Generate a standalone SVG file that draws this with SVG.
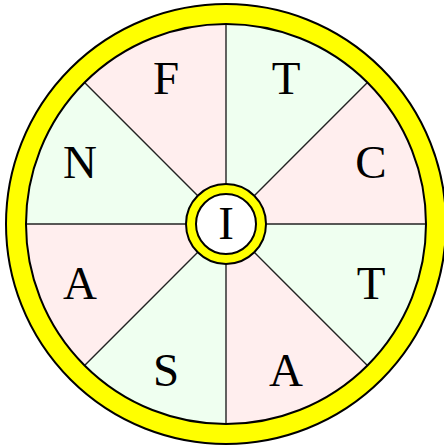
<svg xmlns="http://www.w3.org/2000/svg" width="444" height="446" viewBox="0 0 444 446">
<style>
.pink{fill:#ffeeee;stroke:none}
.green{fill:#effff0;stroke:none}
.spoke{stroke:#222;stroke-width:1.4;fill:none}
.lbl{font-family:"Liberation Serif","Times New Roman",serif;font-size:47px;fill:#000;text-anchor:middle}
</style>
<rect width="444" height="446" fill="#fff"/>
<g id="sectors">
<path class="green" d="M226,224 L226,24 A200,200 0 0 1 367.42,82.58 Z"/>
<path class="pink" d="M226,224 L367.42,82.58 A200,200 0 0 1 426,224 Z"/>
<path class="green" d="M226,224 L426,224 A200,200 0 0 1 367.42,365.42 Z"/>
<path class="pink" d="M226,224 L367.42,365.42 A200,200 0 0 1 226,424 Z"/>
<path class="green" d="M226,224 L226,424 A200,200 0 0 1 84.58,365.42 Z"/>
<path class="pink" d="M226,224 L84.58,365.42 A200,200 0 0 1 26,224 Z"/>
<path class="green" d="M226,224 L26,224 A200,200 0 0 1 84.58,82.58 Z"/>
<path class="pink" d="M226,224 L84.58,82.58 A200,200 0 0 1 226,24 Z"/>
</g>
<g id="connectors">
<line class="spoke" x1="226" y1="24" x2="226" y2="424"/>
<line class="spoke" x1="26" y1="224" x2="426" y2="224"/>
<line class="spoke" x1="84.58" y1="82.58" x2="367.42" y2="365.42"/>
<line class="spoke" x1="367.42" y1="82.58" x2="84.58" y2="365.42"/>
</g>
<g id="rim">
<circle cx="226" cy="224" r="210" fill="none" stroke="#ffff00" stroke-width="20"/>
<circle cx="226" cy="224" r="220" fill="none" stroke="#000" stroke-width="2"/>
<circle cx="226" cy="224" r="200" fill="none" stroke="#000" stroke-width="2"/>
</g>
<g id="hub">
<circle cx="226" cy="224" r="35" fill="#fff" stroke="#ffff00" stroke-width="10"/>
<circle cx="226" cy="224" r="40" fill="none" stroke="#000" stroke-width="2"/>
<circle cx="226" cy="224" r="30" fill="none" stroke="#000" stroke-width="2"/>
<text class="lbl" x="226" y="239">I</text>
</g>
<g id="labels">
<text id="F" class="lbl" x="166" y="94">F</text>
<text id="T1" class="lbl" x="286" y="94">T</text>
<text id="C" class="lbl" x="371" y="178">C</text>
<text id="T2" class="lbl" x="371" y="299">T</text>
<text id="A1" class="lbl" x="286" y="386">A</text>
<text id="S" class="lbl" x="166" y="386">S</text>
<text id="A2" class="lbl" x="80" y="299">A</text>
<text id="N" class="lbl" x="80" y="178">N</text>
</g>
</svg>
